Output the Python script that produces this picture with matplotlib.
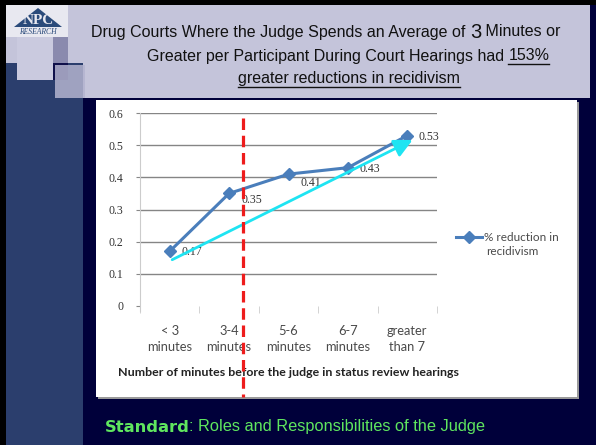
#!/usr/bin/env python
#+++ Imports
import matplotlib
matplotlib.use("Agg")
import matplotlib.pyplot as plt
from matplotlib.patches import Rectangle, Polygon
from matplotlib.lines import Line2D
#---

#+++ Data
categories = ["< 3\nminutes", "3-4\nminutes", "5-6\nminutes", "6-7\nminutes", "greater\nthan 7"]
reduction = [0.17, 0.35, 0.41, 0.43, 0.53]
value_labels = ["0.17", "0.35", "0.41", "0.43", "0.53"]
yticks = [0, 0.1, 0.2, 0.3, 0.4, 0.5, 0.6]
ytick_labels = ["0", "0.1", "0.2", "0.3", "0.4", "0.5", "0.6"]
trend_start = (0.0, 0.14)
trend_end = (4.13, 0.52)
cutoff_x = 1.23
series_name = ["% reduction in", "recidivism"]
x_title = "Number of minutes before the judge in status review hearings"
header_lines = [
    [("Drug Courts Where the Judge Spends an Average of ", 11.5, False), ("3", 14.5, False), (" Minutes or", 11.5, False)],
    [("Greater per Participant During Court Hearings had ", 11.5, False), ("153%", 11.5, True)],
    [("greater reductions in recidivism", 11.5, True)],
]
footer_runs = [("Standard", "bold"), (": Roles and Responsibilities of the Judge", "normal")]
#---

#+++ Figure / slide background
W, H = 596, 445
fig = plt.figure(figsize=(W / 100, H / 100), dpi=100, facecolor="#00003a")

def px(x, y, w, h, color, z=0, **kw):
    # rectangle in pixel coords (origin top-left)
    fig.add_artist(Rectangle((x / W, 1 - (y + h) / H), w / W, h / H, transform=fig.transFigure,
                             facecolor=color, edgecolor="none", zorder=z, **kw))

px(0, 0, 6, H, "#000000", 1)
px(0, 0, W, 5, "#000000", 1)
px(6, 5, 584, 93, "#c4c4da", 1.5)
px(6, 63, 77, H - 63, "#2b3e6d", 2)
px(6, 5, 62, 32, "#e8e8f0", 2)
px(17, 37, 36, 43, "#cacadf", 2.5)
px(53, 37, 15, 26, "#8a8aae", 2.5)
px(53, 63, 15, 17, "#10104a", 2.5)
px(55, 65, 30, 33, "#b4b4d0", 3, alpha=0.85)

# logo
fig.add_artist(Polygon([(14 / W, 1 - 27 / H), (38 / W, 1 - 8 / H), (62 / W, 1 - 27 / H)], closed=True,
                       transform=fig.transFigure, facecolor="#2a4a7a", edgecolor="none", zorder=3))
fig.text(38 / W, 1 - 20 / H, "NPC", fontsize=11, family="Liberation Serif", fontweight="bold",
         color="#e8e8f0", ha="center", va="center", zorder=4)
fig.text(38 / W, 1 - 32 / H, "RESEARCH", fontsize=5.5, family="Liberation Serif", style="italic",
         color="#2a4a7a", ha="center", va="center", zorder=4)

# white chart box with grey shadow
px(98, 102, 481, 297, "#9a9a9a", 3)
px(96, 100, 481, 297, "#ffffff", 4)
#---

#+++ Header and footer text (runs placed side by side)
renderer = fig.canvas.get_renderer()

def place_runs(texts, cx, cy, underline=None):
    widths = [t.get_window_extent(renderer).width for t in texts]
    x = cx - sum(widths) / 2
    for t, w in zip(texts, widths):
        t.set_position((x / W, 1 - cy / H))
        if underline and underline.get(t):
            fig.add_artist(Line2D([x / W, (x + w) / W], [1 - (cy + 8) / H] * 2, transform=fig.transFigure,
                                  color="#111111", lw=1.0, zorder=6))
        x += w

line_centers = [(326, 32), (348, 56), (349, 79)]
for runs, (cx, cy) in zip(header_lines, line_centers):
    texts, ul = [], {}
    for s, size, u in runs:
        t = fig.text(0, 0, s, fontsize=size, family="Liberation Sans", color="#111111",
                     ha="left", va="center", zorder=6)
        texts.append(t)
        ul[t] = u
    place_runs(texts, cx, cy, ul)

foot = []
for s, weight in footer_runs:
    fam = "DejaVu Sans" if weight == "bold" else "Liberation Sans"
    foot.append(fig.text(0, 0, s, fontsize=11.8, family=fam, fontweight=weight, color="#5fe65f",
                         ha="left", va="center", zorder=6))
place_runs(foot, 295, 427)
#---

#+++ Chart
ax = fig.add_axes([140 / W, 1 - 306 / H, 297 / W, 193 / H], zorder=5)
ax.set_facecolor("none")
x = list(range(len(categories)))
ax.set_xlim(-0.5, len(categories) - 0.5)
ax.set_ylim(0, 0.6)

for yv in yticks[1:]:
    ax.axhline(yv, color="#858585", lw=1.0, zorder=1)

ax.plot(x, reduction, color="#4a7ebb", lw=2.2, marker="D", ms=6.5, zorder=3, label=series_name[0])

label_offsets = [(12, -1), (12, -7), (12, -9), (12, -1), (11, -1)]
for xi, yi, lab, off in zip(x, reduction, value_labels, label_offsets):
    ax.annotate(lab, (xi, yi), xytext=off, textcoords="offset pixels", ha="left", va="center",
                fontsize=8.5, family="Liberation Serif", color="#333333", zorder=4)

ax.annotate("", xy=trend_end, xytext=trend_start,
            arrowprops=dict(arrowstyle="-|>,head_length=1.1,head_width=0.55", color="#1ee4f2", lw=2.0),
            zorder=4)

ax.plot([cutoff_x, cutoff_x], [0.584, -0.283], color="#ee1c1c", lw=2.3, ls=(0, (3.6, 1.8)),
        clip_on=False, zorder=6)

ax.set_yticks(yticks)
ax.set_yticklabels(ytick_labels, family="Liberation Serif", fontsize=8.5, color="#333333")
ax.set_xticks(x)
ax.set_xticklabels(categories, family="Lato", fontsize=9.3, color="#4a4a4a", linespacing=1.35)
ax.set_xticks([i - 0.5 for i in range(len(categories) + 1)], minor=True)
ax.tick_params(axis="x", which="major", length=0, pad=14)
ax.tick_params(axis="x", which="minor", length=5, color="#cccccc", direction="out")
ax.tick_params(axis="y", length=3, color="#888888", pad=9)
for side in ("top", "right", "bottom"):
    ax.spines[side].set_visible(False)
ax.spines["left"].set_color("#cccccc")
ax.spines["left"].set_bounds(-0.015, 0.6)

ax.set_xlabel(x_title, family="Lato", fontweight="bold", fontsize=8.9, color="#222222", labelpad=10)

leg = ax.legend(loc="upper left", bbox_to_anchor=(1.064, 0.385), frameon=False,
                prop={"family": "Lato", "size": 8.5}, handlelength=2.2, handletextpad=0.15,
                labelcolor="#4a4a4a", borderaxespad=0, borderpad=0)
ax.text(488, 255, series_name[1], transform=None, family="Lato", fontsize=8.5, color="#4a4a4a",
        ha="left", va="center")
#---

#+++ Save
fig.canvas.draw()
# place the second legend line right below the first, in pixel coords
first = leg.get_texts()[0].get_window_extent(renderer)
ax.texts[-1].set_position((first.x0 + 2, first.y0 - 9))
fig.savefig("out.png", dpi=100, facecolor=fig.get_facecolor())
#---
